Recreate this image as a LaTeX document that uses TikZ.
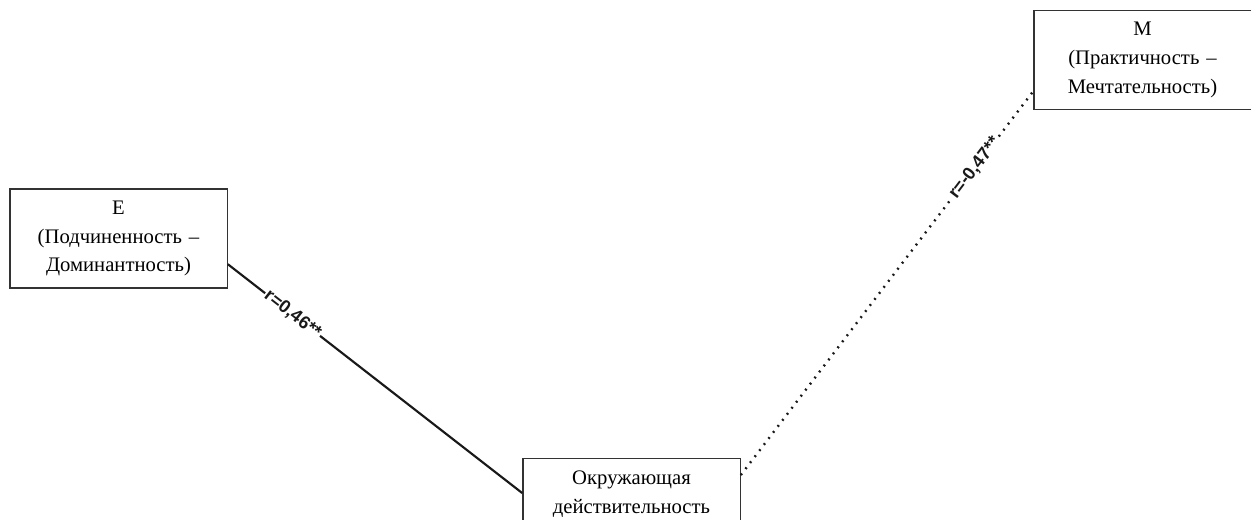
\documentclass[tikz,border=0pt]{standalone}
\usepackage{fontspec}
\setmainfont{Liberation Serif}
\newfontfamily\corrfont{Liberation Sans}
\usetikzlibrary{shapes,calc}

\begin{document}
\begin{tikzpicture}[x=0.75pt,y=0.75pt]
        % factor boxes, correlations written on the links
        \tikzstyle{factor} = [draw=black!80,line width=1pt,rectangle,align=center,inner xsep=3pt,inner ysep=9pt,text width=157pt,font=\fontsize{15.5}{21.5}\selectfont];
        \tikzstyle{corr} = [fill=white,inner sep=1pt,font=\corrfont\bfseries\fontsize{13.5}{15}\selectfont];

        \useasboundingbox (0,0) rectangle (1251,519);

        \node[factor] (E) at (118.5,280.5) {E\\(Подчиненность --\\Доминантность)};
        \node[factor] (M) at (1142.5,459) {M\\(Практичность --\\Мечтательность)};
        \node[factor,anchor=north] (env) at (631.5,61) {Окружающая\\действительность};

        \draw[line width=1.6pt,black!90] ($(E.north east)+(0,-76)$) -- node[corr,sloped,pos=0.22] {r=0,46**} ($(env.north west)+(0,-35)$);
        \draw[line width=1.8pt,black!90,dash pattern=on 1.4pt off 4.3pt] ($(env.north east)+(0,-17)$) -- node[corr,sloped,pos=0.8] {r=-0,47**} ($(M.south west)+(0,19)$);

    \end{tikzpicture}
\end{document}
